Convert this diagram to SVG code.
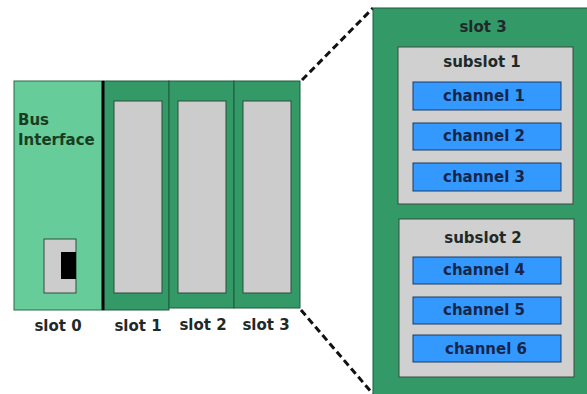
<svg xmlns="http://www.w3.org/2000/svg" width="587" height="394" viewBox="0 0 587 394">
<style>
text{font-family:"DejaVu Sans","Verdana",sans-serif;font-weight:bold;font-size:15px;fill:#1e2a2a}
.lbl{text-anchor:middle}
.dk{fill:#339966;stroke:#1f5a3c;stroke-width:1}
.lt{fill:#66cc99;stroke:#2a6a48;stroke-width:1}
.gr{fill:#cccccc;stroke:#2f4f3f;stroke-width:1}
.sub{fill:#d0d0d0;stroke:#3a4a40;stroke-width:1}
.ch{fill:#3399ff;stroke:#1a3a66;stroke-width:1}
.cht{fill:#16264a;text-anchor:middle}
.dash{stroke:#111;stroke-width:3;stroke-dasharray:7,4;fill:none}
</style>
<rect width="587" height="394" fill="#ffffff"/>
<g id="connectors">
<line class="dash" x1="302" y1="80" x2="373" y2="8"/>
<line class="dash" x1="301" y1="310" x2="373" y2="394"/>
</g>
<g id="slot0">
<rect class="lt" x="14" y="81" width="89" height="229"/>
<text x="18" y="125" style="fill:#1a3d22">Bus</text>
<text x="18" y="145" style="fill:#1a3d22">Interface</text>
<rect class="gr" x="44" y="239" width="32" height="54"/>
<rect x="61" y="252" width="15" height="27" fill="#000"/>
<text class="lbl" x="58" y="331">slot 0</text>
</g>
<g id="slot1">
<rect class="dk" x="103" y="81" width="66" height="229"/>
<rect class="gr" x="114" y="101" width="48" height="192"/>
<text class="lbl" x="138" y="331">slot 1</text>
</g>
<g id="slot2">
<rect class="dk" x="169" y="81" width="65" height="227"/>
<rect class="gr" x="178" y="101" width="48" height="192"/>
<text class="lbl" x="203" y="330">slot 2</text>
</g>
<g id="slot3">
<rect class="dk" x="234" y="81" width="66" height="227"/>
<rect class="gr" x="243" y="101" width="48" height="192"/>
<text class="lbl" x="266" y="330">slot 3</text>
</g>
<line x1="103" y1="81" x2="103" y2="310" stroke="#000" stroke-width="3"/>
<g id="slot3-detail">
<rect class="dk" x="373" y="8" width="220" height="400"/>
<text class="lbl" x="483" y="32">slot 3</text>
</g>
<g id="subslot1">
<rect class="sub" x="398" y="47" width="175" height="157"/>
<text class="lbl" x="482" y="67">subslot 1</text>
</g>
<g id="channel1"><rect class="ch" x="413" y="82" width="148" height="28"/><text class="cht" x="484" y="101">channel 1</text></g>
<g id="channel2"><rect class="ch" x="413" y="123" width="148" height="27"/><text class="cht" x="484" y="141">channel 2</text></g>
<g id="channel3"><rect class="ch" x="413" y="163" width="148" height="28"/><text class="cht" x="484" y="182">channel 3</text></g>
<g id="subslot2">
<rect class="sub" x="399" y="219" width="175" height="158"/>
<text class="lbl" x="483" y="243">subslot 2</text>
</g>
<g id="channel4"><rect class="ch" x="413" y="257" width="148" height="27"/><text class="cht" x="484" y="275">channel 4</text></g>
<g id="channel5"><rect class="ch" x="413" y="297" width="148" height="27"/><text class="cht" x="484" y="315">channel 5</text></g>
<g id="channel6"><rect class="ch" x="413" y="335" width="148" height="27"/><text class="cht" x="486" y="354">channel 6</text></g>
</svg>
